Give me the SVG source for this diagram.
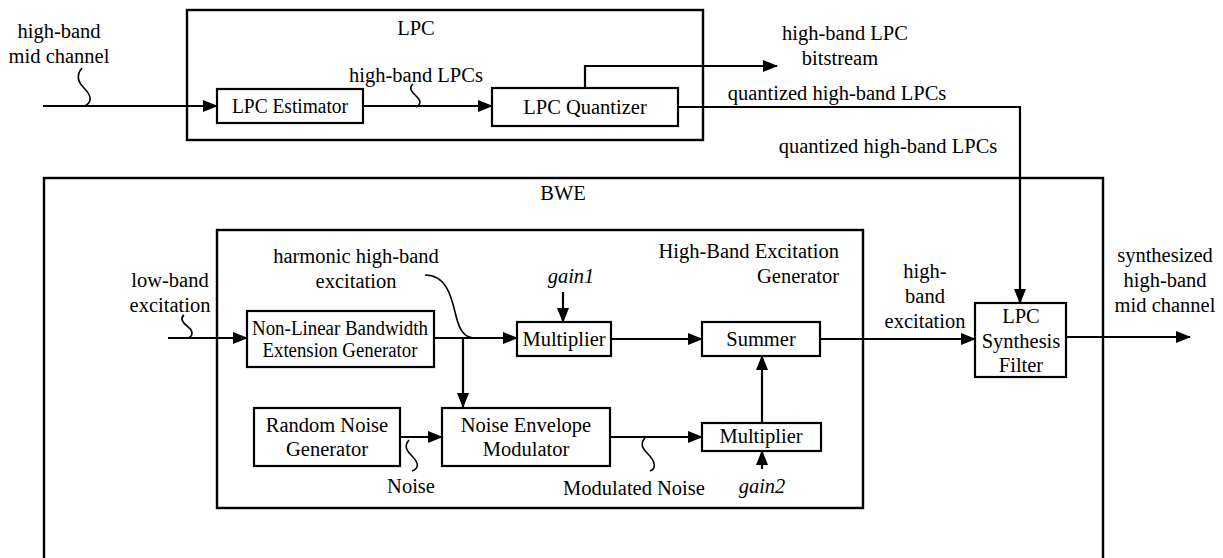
<svg xmlns="http://www.w3.org/2000/svg" width="1223" height="558" viewBox="0 0 1223 558" font-family="'Liberation Serif', 'DejaVu Serif', serif">
<defs>
<marker id="ah" markerUnits="userSpaceOnUse" markerWidth="15" markerHeight="12" refX="14" refY="6" orient="auto"><path d="M0,0 L15,6 L0,12 z" fill="#000"/></marker>
<style>
.box{fill:#fff;stroke:#000;stroke-width:2.2}
.frame{fill:none;stroke:#000;stroke-width:2.4}
.arr{fill:none;stroke:#000;stroke-width:2.2;marker-end:url(#ah)}
.sq{fill:none;stroke:#000;stroke-width:1.6}
text{font-family:'Liberation Serif','DejaVu Serif',serif;font-size:20.5px;fill:#000;text-anchor:middle}
.it{font-style:italic}
</style>
</defs>
<rect width="1223" height="558" fill="#fff"/>
<g id="lpc-frame"><rect class="frame" x="187" y="10" width="516" height="130"/><text x="416" y="35">LPC</text></g>
<g id="bwe-frame"><rect class="frame" x="44" y="178" width="1059" height="400"/><text x="563" y="200">BWE</text></g>
<g id="hbeg-frame"><rect class="frame" x="217" y="230" width="646" height="278"/><text x="839" y="258" style="text-anchor:end">High-Band Excitation</text><text x="839" y="283" style="text-anchor:end">Generator</text></g>
<g id="connectors">
<path class="arr" d="M43,106 H217"/>
<path class="arr" d="M363,106 H492"/>
<path class="arr" d="M585,88 V66 H777"/>
<path class="arr" d="M678,107 H1020 V303"/>
<path class="arr" d="M168,338 H247"/>
<path class="arr" d="M434,338 H517"/>
<path class="arr" d="M463,338 V407"/>
<path class="arr" d="M563,292 V322"/>
<path class="arr" d="M611,339 H702"/>
<path class="arr" d="M820,339 H975"/>
<path class="arr" d="M1066,337 H1190"/>
<path class="arr" d="M400,437 H442"/>
<path class="arr" d="M610,437 H702"/>
<path class="arr" d="M762,423 V356"/>
<path class="arr" d="M762,469 V451"/>
<path class="sq" d="M82,68 C76,75 78,82 84,88 C92,96 92,102 85,106"/>
<path class="sq" d="M413,84 C408,88 412,92 417,97 C422,102 420,105 416,107"/>
<path class="sq" d="M184,315 C180,318 182,322 187,326 C194,331 193,336 188,338"/>
<path class="sq" d="M425,275 C448,275 452,300 456,316 C460,332 465,338 476,338"/>
<path class="sq" d="M409,440 C404,446 406,450 412,456 C420,464 418,469 412,471"/>
<path class="sq" d="M645,438 C640,444 642,448 648,454 C656,462 656,469 650,471"/>
</g>
<g id="lbl-in"><text x="59" y="38">high-band</text><text x="59" y="63">mid channel</text></g>
<g id="lbl-lpcs"><text x="416" y="82">high-band LPCs</text></g>
<g id="lbl-bit"><text x="845" y="40">high-band LPC</text><text x="840" y="65">bitstream</text></g>
<g id="lbl-q1"><text x="837" y="100">quantized high-band LPCs</text></g>
<g id="lbl-q2"><text x="888" y="153">quantized high-band LPCs</text></g>
<g id="lbl-low"><text x="170" y="287">low-band</text><text x="170" y="312">excitation</text></g>
<g id="lbl-harm"><text x="356" y="263">harmonic high-band</text><text x="356" y="288">excitation</text></g>
<g id="lbl-g1"><text class="it" x="571" y="283">gain1</text></g>
<g id="lbl-g2"><text class="it" x="762" y="493">gain2</text></g>
<g id="lbl-noise"><text x="411" y="493">Noise</text></g>
<g id="lbl-mod"><text x="634" y="495">Modulated Noise</text></g>
<g id="lbl-hbe"><text x="925" y="278">high-</text><text x="925" y="303">band</text><text x="925" y="328">excitation</text></g>
<g id="lbl-out"><text x="1165" y="262">synthesized</text><text x="1165" y="287">high-band</text><text x="1165" y="312">mid channel</text></g>
<g id="lpc-estimator"><rect class="box" x="217" y="89" width="146" height="34"/><text x="290" y="113" textLength="116" lengthAdjust="spacingAndGlyphs">LPC Estimator</text></g>
<g id="lpc-quantizer"><rect class="box" x="492" y="88" width="186" height="38"/><text x="585" y="114">LPC Quantizer</text></g>
<g id="nlbeg"><rect class="box" x="247" y="311" width="187" height="56"/><text x="340" y="335" textLength="176" lengthAdjust="spacingAndGlyphs">Non-Linear Bandwidth</text><text x="340" y="357" textLength="155" lengthAdjust="spacingAndGlyphs">Extension Generator</text></g>
<g id="multiplier1"><rect class="box" x="517" y="322" width="94" height="34"/><text x="564" y="346">Multiplier</text></g>
<g id="summer"><rect class="box" x="702" y="322" width="118" height="34"/><text x="761" y="346">Summer</text></g>
<g id="rng"><rect class="box" x="254" y="408" width="146" height="58"/><text x="327" y="432">Random Noise</text><text x="327" y="456">Generator</text></g>
<g id="nem"><rect class="box" x="442" y="408" width="168" height="58"/><text x="526" y="432">Noise Envelope</text><text x="526" y="456">Modulator</text></g>
<g id="multiplier2"><rect class="box" x="702" y="423" width="119" height="28"/><text x="761" y="443">Multiplier</text></g>
<g id="lpc-synth"><rect class="box" x="975" y="303" width="91" height="74"/><text x="1021" y="323">LPC</text><text x="1021" y="348">Synthesis</text><text x="1021" y="372">Filter</text></g>
</svg>
